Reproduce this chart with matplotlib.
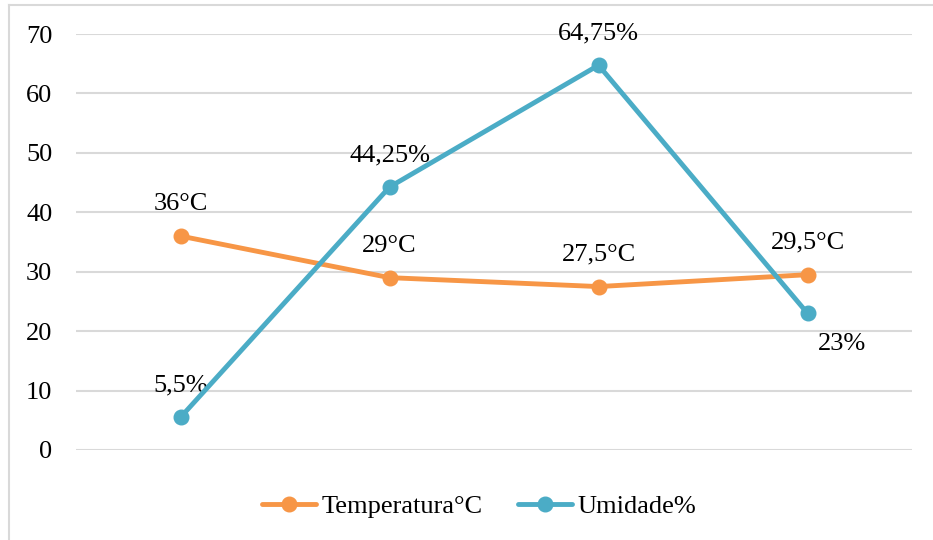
import matplotlib.pyplot as plt
from matplotlib.lines import Line2D

plt.rcParams['font.family'] = ['Liberation Serif', 'DejaVu Serif']

# dados
pontos = [0, 1, 2, 3]
temperatura = [36, 29, 27.5, 29.5]
umidade = [5.5, 44.25, 64.75, 23]
rot_temp = ["36°C", "29°C", "27,5°C", "29,5°C"]
rot_umid = ["5,5%", "44,25%", "64,75%", "23%"]

laranja = "#F79646"
azul = "#4BACC6"
fs = 19

fig = plt.figure(figsize=(9.33, 5.4), dpi=100)
ax = fig.add_axes([0.0815, 0.1667, 0.896, 0.7703])

ax.plot(pontos, temperatura, color=laranja, lw=3.5, marker='o', markersize=10.5,
        label="Temperatura°C", solid_capstyle='round', zorder=3)
ax.plot(pontos, umidade, color=azul, lw=3.5, marker='o', markersize=10.5,
        label="Umidade%", solid_capstyle='round', zorder=4)

# rótulos de dados
for x, y, t in zip(pontos, temperatura, rot_temp):
    ax.annotate(t, (x, y), xytext=(0, 23), textcoords='offset points',
                ha='center', va='center', fontsize=fs)
for i, (x, y, t) in enumerate(zip(pontos, umidade, rot_umid)):
    off = (25, -22) if i == 3 else (0, 23)
    ax.annotate(t, (x, y), xytext=off, textcoords='offset points',
                ha='center', va='center', fontsize=fs)

ax.set_xlim(-0.5, 3.5)
ax.set_ylim(0, 70)
ax.set_yticks(range(0, 71, 10))
ax.set_xticks([])
ax.grid(axis='y', color='#D9D9D9', lw=1.5)
ax.set_axisbelow(True)
for s in ax.spines.values():
    s.set_visible(False)
ax.tick_params(axis='y', length=0, labelsize=fs, pad=17)

ax.legend(loc='center', bbox_to_anchor=(0.482, -0.136), ncol=2, frameon=False,
          fontsize=fs, handlelength=2.05, handletextpad=0.2, columnspacing=1.35)

# borda do gráfico
fig.add_artist(Line2D([9 / 933, 9 / 933], [0, 1 - 5 / 540], color='#D9D9D9', lw=1.5))
fig.add_artist(Line2D([9 / 933, 1], [1 - 5 / 540, 1 - 5 / 540], color='#D9D9D9', lw=1.5))

fig.savefig("out.png", dpi=100)
